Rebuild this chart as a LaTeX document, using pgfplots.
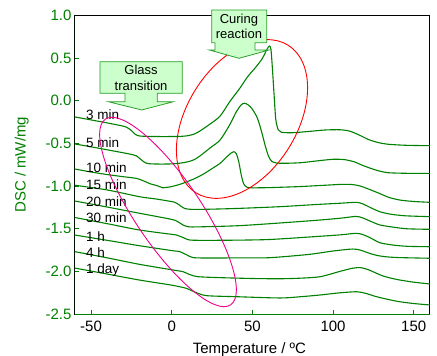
\documentclass[border=0pt]{standalone}
\usepackage{pgfplots}
\pgfplotsset{compat=1.18}
\usepackage{fontspec}
\setmainfont{Liberation Sans}
\definecolor{dscgreen}{RGB}{0,128,0}
\definecolor{calloutfill}{RGB}{204,255,204}
\definecolor{calloutdraw}{RGB}{40,160,40}
\tikzset{dsc/.style={dscgreen, solid, line width=1.1pt, smooth, tension=0.45, mark=none}}
\begin{document}
\begin{tikzpicture}
\useasboundingbox (-74.9pt,-41.8pt) rectangle (362.1pt,314.2pt);
\begin{axis}[
  scale only axis, width=355pt, height=298.9pt,
  at={(0pt,0pt)}, anchor=south west,
  xmin=-60, xmax=160, ymin=-2.5, ymax=1.0,
  xtick={-50,0,50,100,150},
  ytick={-2.5,-2,-1.5,-1,-0.5,0,0.5,1},
  tick pos=left, tick align=inside, major tick length=4pt,
  axis line style={black, line width=1pt},
  every tick/.style={dscgreen, line width=0.8pt},
  /pgf/number format/assume math mode=true,
  tick label style={font=\fontsize{15}{18}\selectfont},
  yticklabel style={text=dscgreen, /pgf/number format/fixed, /pgf/number format/fixed zerofill, /pgf/number format/precision=1},
  xticklabel style={yshift=-3.5pt},
  xlabel={Temperature / ºC},
  ylabel={DSC / mW/mg},
  every axis x label/.style={at={(axis description cs:0.5,0)}, anchor=base, yshift=-39.8pt, xshift=-3pt, font=\fontsize{15}{18}\selectfont},
  every axis y label/.style={at={(axis description cs:0,0.5)}, xshift=-46pt, rotate=90, anchor=south, inner sep=0pt, text=dscgreen, font=\fontsize{15}{18}\selectfont},
]
% 3 min
\addplot[dsc] coordinates {(-60,-0.19) (-50,-0.225) (-40,-0.26) (-32,-0.29) (-28,-0.31) (-25,-0.35) (-22.5,-0.395) (-20,-0.413) (-15,-0.418) (-5,-0.42) (5,-0.418) (10,-0.41) (14,-0.39) (17.5,-0.355) (24,-0.27) (30,-0.18) (36,-0.01) (42,0.14) (47,0.28) (52,0.39) (56,0.49) (59,0.6) (60.5,0.64) (61.5,0.6) (62.5,0.35) (63.5,0.05) (64.5,-0.22) (66,-0.34) (68,-0.37) (75,-0.375) (85,-0.36) (95,-0.343) (104,-0.34) (110,-0.355) (116,-0.4) (122,-0.455) (128,-0.49) (134,-0.51) (145,-0.522) (160,-0.527)};
% 5 min
\addplot[dsc] coordinates {(-60,-0.507) (-50,-0.54) (-40,-0.575) (-30,-0.61) (-26,-0.625) (-22,-0.645) (-19,-0.69) (-16.5,-0.725) (-14,-0.738) (-7,-0.742) (0,-0.74) (5,-0.732) (10,-0.715) (14,-0.69) (18,-0.64) (24,-0.55) (30,-0.46) (36,-0.28) (40,-0.13) (43,-0.05) (45,-0.03) (47.5,-0.05) (50,-0.1) (53,-0.2) (55.5,-0.35) (58,-0.53) (60,-0.65) (62,-0.71) (65,-0.73) (70,-0.733) (80,-0.726) (90,-0.705) (100,-0.686) (107,-0.69) (113,-0.715) (118,-0.755) (123,-0.79) (128,-0.82) (134,-0.843) (145,-0.85) (160,-0.851)};
% 10 min
\addplot[dsc] coordinates {(-60,-0.80) (-50,-0.835) (-40,-0.865) (-30,-0.89) (-22,-0.909) (-18,-0.935) (-13,-0.975) (-9,-0.995) (-5.5,-1.02) (-3,-1.015) (0,-1.005) (5,-0.98) (10,-0.945) (15,-0.905) (20,-0.855) (25,-0.795) (30,-0.733) (34,-0.66) (37,-0.61) (38.5,-0.597) (40,-0.62) (41.5,-0.71) (43,-0.86) (44.5,-0.97) (46.5,-1.012) (50,-1.02) (60,-1.018) (70,-1.012) (80,-1.005) (95,-0.99) (105,-0.98) (112,-0.982) (117,-1.0) (122,-1.035) (128,-1.08) (135,-1.135) (142,-1.165) (150,-1.18) (160,-1.19)};
% 15 min
\addplot[dsc] coordinates {(-60,-0.99) (-40,-1.045) (-20,-1.124) (-10,-1.15) (-2,-1.175) (2,-1.19) (5,-1.225) (8,-1.262) (12,-1.272) (20,-1.272) (40,-1.262) (67,-1.241) (90,-1.215) (105,-1.2) (114,-1.19) (118,-1.205) (123,-1.25) (129,-1.3) (136,-1.33) (145,-1.348) (160,-1.358)};
% 20 min
\addplot[dsc] coordinates {(-60,-1.175) (-40,-1.245) (-20,-1.318) (0,-1.39) (4,-1.42) (7,-1.455) (10,-1.475) (15,-1.478) (40,-1.465) (61,-1.44) (90,-1.40) (105,-1.375) (114,-1.355) (118,-1.37) (123,-1.41) (129,-1.455) (137,-1.48) (146,-1.5) (160,-1.506)};
% 30 min
\addplot[dsc] coordinates {(-60,-1.368) (-40,-1.44) (-20,-1.514) (0,-1.565) (3,-1.573) (7,-1.602) (11,-1.631) (20,-1.635) (40,-1.633) (61,-1.625) (90,-1.59) (105,-1.57) (114,-1.553) (118,-1.565) (123,-1.605) (129,-1.663) (137,-1.69) (146,-1.705) (160,-1.71)};
% 1 h
\addplot[dsc] coordinates {(-60,-1.573) (-40,-1.635) (-20,-1.698) (0,-1.755) (5,-1.768) (9.5,-1.807) (13.5,-1.838) (25,-1.842) (45,-1.84) (61,-1.838) (85,-1.8) (100,-1.76) (112,-1.737) (117,-1.75) (123,-1.79) (129,-1.818) (138,-1.835) (160,-1.845)};
% 4 h
\addplot[dsc] coordinates {(-60,-1.768) (-40,-1.84) (-20,-1.916) (0,-1.98) (7,-2.002) (11,-2.035) (16.5,-2.061) (30,-2.072) (50,-2.082) (67,-2.085) (80,-2.078) (92,-2.061) (104,-2.0) (112,-1.962) (117,-1.955) (122,-1.98) (131,-2.053) (140,-2.095) (150,-2.125) (160,-2.146)};
% 1 day
\addplot[dsc] coordinates {(-60,-1.96) (-40,-2.03) (-20,-2.10) (0,-2.16) (9,-2.197) (15,-2.246) (21.7,-2.283) (40,-2.295) (67,-2.31) (80,-2.295) (92,-2.275) (104,-2.25) (114.6,-2.237) (120,-2.255) (126,-2.29) (131,-2.314) (140,-2.35) (150,-2.375) (160,-2.392)};
\draw[dscgreen, line width=1pt] (rel axis cs:0,1) -- (rel axis cs:0,0) -- (rel axis cs:1,0);
\end{axis}
% curve labels
\begin{scope}[every node/.style={anchor=base west, inner sep=0pt, font=\fontsize{13.5}{16}\selectfont}]
\node at (11.1pt,194.5pt) {3 min};
\node at (11.1pt,166.2pt) {5 min};
\node at (11.1pt,141.2pt) {10 min};
\node at (11.1pt,124.5pt) {15 min};
\node at (11.1pt,107.8pt) {20 min};
\node at (11.1pt,91.2pt) {30 min};
\node at (11.1pt,72.8pt) {1 h};
\node at (11.1pt,56.8pt) {4 h};
\node at (11.1pt,40.2pt) {1 day};
\end{scope}
% ellipses
\draw[red, line width=0.9pt, rotate around={58:(167.1pt,195.2pt)}] (167.1pt,195.2pt) ellipse (87pt and 55pt);
\draw[magenta, line width=0.9pt, rotate around={-56:(93.1pt,102.2pt)}] (93.1pt,102.2pt) ellipse (112pt and 33pt);
% callouts
\draw[fill=calloutfill, draw=calloutdraw, line width=0.8pt] (25.1pt,252.5pt) -- (107.4pt,252.5pt) -- (107.4pt,220.9pt) -- (82.4pt,220.9pt) -- (82.4pt,212.5pt) -- (98.4pt,212.5pt) -- (66.8pt,204.2pt) -- (33.4pt,212.5pt) -- (50.1pt,212.5pt) -- (50.1pt,220.9pt) -- (25.1pt,220.9pt) -- cycle;
\draw[fill=calloutfill, draw=calloutdraw, line width=0.8pt] (136.8pt,304.2pt) -- (191.8pt,304.2pt) -- (191.8pt,271.5pt) -- (180.1pt,271.5pt) -- (180.1pt,264.2pt) -- (194.1pt,264.2pt) -- (164.1pt,255.9pt) -- (134.4pt,264.2pt) -- (140.1pt,264.2pt) -- (140.1pt,271.5pt) -- (136.8pt,271.5pt) -- cycle;
\begin{scope}[every node/.style={anchor=base, inner sep=0pt, font=\fontsize{13}{15}\selectfont}]
\node at (66.2pt,239.2pt) {Glass};
\node at (66.2pt,223.8pt) {transition};
\node at (164pt,290.2pt) {Curing};
\node at (164pt,275.2pt) {reaction};
\end{scope}
\end{tikzpicture}
\end{document}
